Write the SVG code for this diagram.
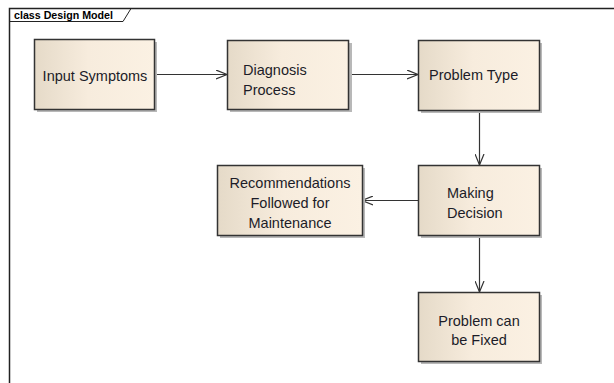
<svg xmlns="http://www.w3.org/2000/svg" width="614" height="383" viewBox="0 0 614 383">
<defs>
<linearGradient id="fill" x1="0" y1="0" x2="1" y2="0">
<stop offset="0" stop-color="#e5dac8"/>
<stop offset="0.45" stop-color="#f7ecdd"/>
<stop offset="1" stop-color="#fbf1e3"/>
</linearGradient>
<marker id="arr" viewBox="0 0 12 10" refX="11" refY="5" markerWidth="12" markerHeight="10" markerUnits="userSpaceOnUse" orient="auto">
<path d="M0,0.5 L11,5 L0,9.5" fill="none" stroke="#333" stroke-width="1.2"/>
</marker>
</defs>
<style>
.shadow{fill:#b8b8b8;}
.box{fill:url(#fill);stroke:#333;stroke-width:1.5;}
.t{font-family:"Liberation Sans",Arial,sans-serif;font-size:14.5px;fill:#1c1c28;}
.c{text-anchor:middle;}
.conn{stroke:#333;stroke-width:1.2;fill:none;marker-end:url(#arr);}
.frame{stroke:#222;stroke-width:1.5;fill:none;}
</style>
<rect width="614" height="383" fill="#fff"/>
<g id="frame">
<path class="frame" d="M9.5,383 L9.5,8.5 L614,8.5"/>
<path d="M9.5,21.5 L123,21.5 L131,8.5" stroke="#222" stroke-width="1" fill="none"/>
<text x="14" y="18.5" font-family="'Liberation Sans',Arial,sans-serif" font-size="10" font-weight="bold" fill="#000" textLength="99" lengthAdjust="spacingAndGlyphs">class Design Model</text>
</g>
<g id="connectors">
<line class="conn" x1="154" y1="74.5" x2="227" y2="74.5"/>
<line class="conn" x1="349" y1="74.5" x2="418" y2="74.5"/>
<line class="conn" x1="479.5" y1="110" x2="479.5" y2="165"/>
<line class="conn" x1="418" y1="200.5" x2="362" y2="200.5"/>
<line class="conn" x1="479.5" y1="235" x2="479.5" y2="292"/>
</g>
<g id="input-symptoms">
<rect class="shadow" x="37" y="42" width="120" height="70"/>
<rect class="box" x="34.5" y="39.5" width="120" height="70"/>
<text class="t c" x="95" y="81">Input Symptoms</text>
</g>
<g id="diagnosis-process">
<rect class="shadow" x="230" y="43" width="122" height="69"/>
<rect class="box" x="227.5" y="40.5" width="121" height="69"/>
<text class="t" x="243" y="75">Diagnosis</text>
<text class="t" x="243" y="95">Process</text>
</g>
<g id="problem-type">
<rect class="shadow" x="421" y="43" width="121" height="70"/>
<rect class="box" x="418.5" y="40.5" width="121" height="70"/>
<text class="t" x="429" y="80">Problem Type</text>
</g>
<g id="making-decision">
<rect class="shadow" x="421" y="168" width="121" height="70"/>
<rect class="box" x="418.5" y="165.5" width="121" height="70"/>
<text class="t" x="447" y="198">Making</text>
<text class="t" x="447" y="218">Decision</text>
</g>
<g id="recommendations">
<rect class="shadow" x="220" y="168" width="145" height="70"/>
<rect class="box" x="217.5" y="165.5" width="145" height="70"/>
<text class="t c" x="290" y="188">Recommendations</text>
<text class="t c" x="290" y="208">Followed for</text>
<text class="t c" x="290" y="228">Maintenance</text>
</g>
<g id="problem-fixed">
<rect class="shadow" x="421" y="295" width="121" height="69"/>
<rect class="box" x="418.5" y="292.5" width="121" height="69"/>
<text class="t c" x="479" y="326">Problem can</text>
<text class="t c" x="479" y="345">be Fixed</text>
</g>
</svg>
